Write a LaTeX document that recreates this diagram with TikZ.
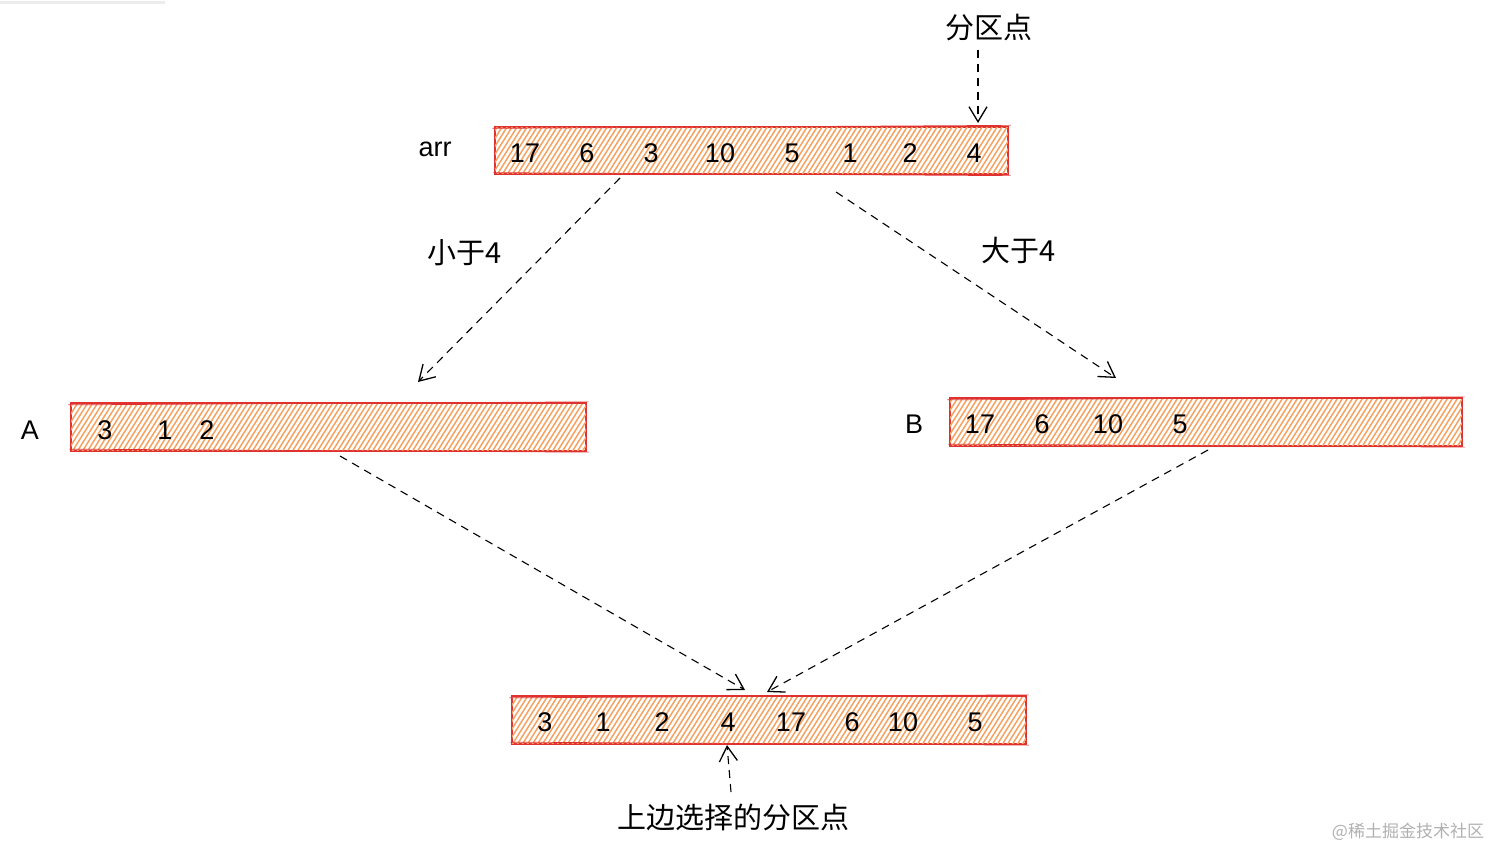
\documentclass[tikz,border=0pt]{standalone}
\usepackage{fontspec}
\setmainfont{Liberation Sans}
\newfontfamily\cjk{Noto Sans CJK SC}
\usetikzlibrary{arrows.meta}
\definecolor{boxred}{HTML}{E03131}
\definecolor{hatchor}{HTML}{F5A262}
\definecolor{wmgray}{HTML}{B0B0B0}
\tikzset{
  arrbox/.style={draw=boxred, line width=1.3pt, minimum height=47pt, inner sep=0pt},
  hatchline/.style={hatchor, line width=1.5pt},
  num/.style={font=\fontsize{27}{30}\selectfont, inner sep=0pt},
  lbl/.style={font=\fontsize{27}{30}\selectfont, inner sep=0pt},
  cjklbl/.style={font=\cjk\fontsize{29}{32}\selectfont, inner sep=0pt},
  dasharrow/.style={dash pattern=on 8pt off 6pt, line width=1.1pt, -{Straight Barb[length=15pt,width=18pt,line width=1.3pt]}},
}
\begin{document}
\begin{tikzpicture}[x=1pt, y=-1pt]
\useasboundingbox (0,0) rectangle (1512,866);
\draw[gray!15, line width=3pt] (0,3) -- (165,3);

% boxes
\path (751.5,150.5) node[arrbox, minimum width=513pt] (arr) {};
\path (328.5,427) node[arrbox, minimum width=515pt] (A) {};
\path (1206,422) node[arrbox, minimum width=512pt] (B) {};
\path (769,720) node[arrbox, minimum width=514pt] (R) {};
\begin{scope}
  \clip (arr.south west) rectangle (arr.north east);
  \foreach \x in {440,445,...,1020} \draw[hatchline] (\x,178) -- ++(34,-54);
\end{scope}
\begin{scope}
  \clip (A.south west) rectangle (A.north east);
  \foreach \x in {20,25,...,600} \draw[hatchline] (\x,455) -- ++(34,-54);
\end{scope}
\begin{scope}
  \clip (B.south west) rectangle (B.north east);
  \foreach \x in {900,905,...,1470} \draw[hatchline] (\x,450) -- ++(34,-54);
\end{scope}
\begin{scope}
  \clip (R.south west) rectangle (R.north east);
  \foreach \x in {460,465,...,1040} \draw[hatchline] (\x,748) -- ++(34,-54);
\end{scope}
\foreach \n in {arr,A,B,R} {
  \draw[boxred, line width=1.3pt] (\n.south west) rectangle (\n.north east);
  \draw[boxred, line width=0.7pt] ([shift={(-2,2)}]\n.north west) -- ([shift={(2,-1)}]\n.north east);
  \draw[boxred, line width=0.7pt] ([shift={(-1,-2)}]\n.south west) -- ([shift={(2,1)}]\n.south east);
}

% arr contents
\node[lbl] (arrlbl) at (435,149) {arr};
\node[num] (a1) at (525,153) {17};
\node[num] (a2) at (587,153) {6};
\node[num] (a3) at (651,153) {3};
\node[num] (a4) at (720,153) {10};
\node[num] (a5) at (792,153) {5};
\node[num] (a6) at (850,153) {1};
\node[num] (a7) at (910,153) {2};
\node[num] (a8) at (974,153) {4};

% A contents
\node[lbl] (Albl) at (30,430) {A};
\node[num] (b1) at (105,430) {3};
\node[num] (b2) at (165,430) {1};
\node[num] (b3) at (207,430) {2};

% B contents
\node[lbl] (Blbl) at (914,424) {B};
\node[num] (c1) at (980,424) {17};
\node[num] (c2) at (1042,424) {6};
\node[num] (c3) at (1108,424) {10};
\node[num] (c4) at (1180,424) {5};

% result contents
\node[num] (d1) at (545,722) {3};
\node[num] (d2) at (603,722) {1};
\node[num] (d3) at (662,722) {2};
\node[num] (d4) at (728,722) {4};
\node[num] (d5) at (791,722) {17};
\node[num] (d6) at (852,722) {6};
\node[num] (d7) at (903,722) {10};
\node[num] (d8) at (975,722) {5};

% labels
\node[cjklbl] (pivot) at (989,28) {分区点};
\node[cjklbl] (less) at (465,253) {小于4};
\node[cjklbl] (greater) at (1019,250) {大于4};
\node[cjklbl] (chosen) at (733,817) {上边选择的分区点};
\node[font=\cjk\fontsize{17}{20}\selectfont, text=wmgray, inner sep=0pt] (wm) at (1408,832) {@稀土掘金技术社区};

% connector end points
\coordinate (p1) at (978,50);
\coordinate (p2) at (978,123);
\coordinate (s1) at (620,178);
\coordinate (s2) at (418,382);
\coordinate (g1) at (836,192);
\coordinate (g2) at (1116,378);
\coordinate (ar1) at (340,456);
\coordinate (ar2) at (745,690);
\coordinate (br1) at (1208,450);
\coordinate (br2) at (767,692);
\coordinate (c1s) at (731,792);
\coordinate (c1e) at (727,745);

\draw[dasharrow] (p1) -- (p2);
\draw[dasharrow] (s1) -- (s2);
\draw[dasharrow] (g1) -- (g2);
\draw[dasharrow] (ar1) -- (ar2);
\draw[dasharrow] (br1) -- (br2);
\draw[dasharrow] (c1s) -- (c1e);
\end{tikzpicture}
\end{document}
